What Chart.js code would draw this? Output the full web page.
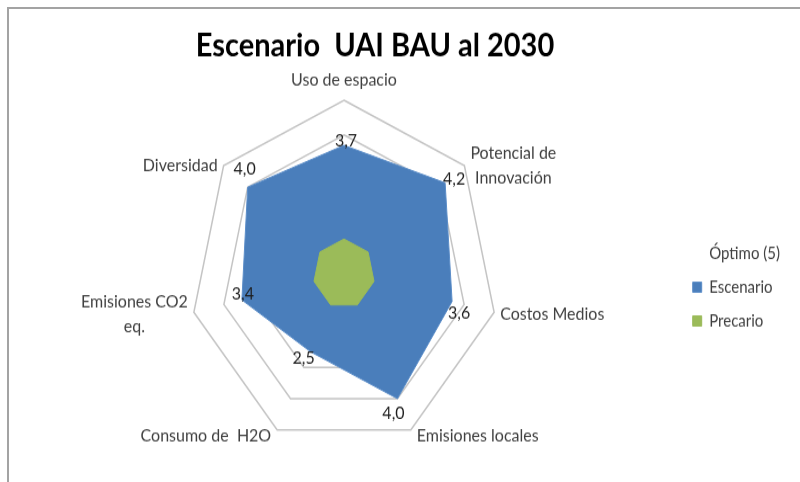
<!DOCTYPE html>
<html lang="es">
<head>
  <meta charset="UTF-8">
  <title>Escenario UAI BAU al 2030</title>
  <script src="https://cdn.jsdelivr.net/npm/chart.js"></script>
  <style>
    html, body {
      margin: 0;
      padding: 0;
      background: #fff;
      overflow: hidden;
    }
    .marco {
      position: absolute;
      left: 7px;
      top: 7px;
      width: 820px;
      height: 520px;
      border: 2px solid #a3a3a3;
    }
    #grafico {
      position: absolute;
      left: 0;
      top: 0;
    }
  </style>
</head>
<body>
  <div class="marco"></div>
  <!-- el original esta estirado en vertical: se dibuja a 800x428 y se muestra a 800x482 -->
  <canvas id="grafico" width="800" height="428" style="width:800px;height:482px"></canvas>

  <script>
    // Datos
    const ejes = ['Uso de espacio', ['Potencial de', 'Innovación'], 'Costos Medios', 'Emisiones locales',
                  'Consumo de  H2O', ['Emisiones CO2', 'eq.'], 'Diversidad'];
    const optimo = [5, 5, 5, 5, 5, 5, 5];
    const escenario = [3.7, 4.2, 3.6, 4.0, 2.5, 3.4, 4.0];
    const precario = [1, 1, 1, 1, 1, 1, 1];
    const titulo = 'Escenario  UAI BAU al 2030';

    // desplazamiento (px) de cada etiqueta de valor respecto a su punto
    const desplazamientos = [[2, -4], [9, -4], [7, 10], [-4, 13], [-7, 5], [1, -5], [-3, -16]];

    const fuente = 'Lato, "Open Sans", sans-serif';

    const tituloPlugin = {
      id: 'tituloExcel',
      afterDraw(chart) {
        const ctx = chart.ctx;
        ctx.save();
        ctx.font = 'bold 29px ' + fuente;
        ctx.fillStyle = '#000';
        ctx.textAlign = 'center';
        ctx.textBaseline = 'middle';
        ctx.fillText(titulo, 375, 41);
        ctx.restore();
      }
    };

    // nombres de los ejes, al costado de cada vertice como en Excel
    const ejesPlugin = {
      id: 'ejesTexto',
      afterDraw(chart) {
        const r = chart.scales.r;
        const ctx = chart.ctx;
        const alto = 22;
        ctx.save();
        ctx.font = '16px ' + fuente;
        ctx.fillStyle = '#404040';
        ctx.textAlign = 'center';
        ctx.textBaseline = 'middle';
        ejes.forEach((texto, i) => {
          const p = r.getPointPosition(i, r.drawingArea);
          const lineas = [].concat(texto);
          const ancho = Math.max(...lineas.map(l => ctx.measureText(l).width));
          const c = Math.cos(p.angle);
          const s = Math.sin(p.angle);
          let x, y;
          if (Math.abs(c) < 0.01) {
            x = p.x;
            y = p.y - 18;
          } else {
            x = p.x + Math.sign(c) * (6 + ancho / 2);
            y = p.y + Math.max(0, s) * 6;
          }
          lineas.forEach((l, k) => ctx.fillText(l, x, y + (k - (lineas.length - 1) / 2) * alto));
        });
        ctx.restore();
      }
    };

    const etiquetasPlugin = {
      id: 'etiquetas',
      afterDatasetsDraw(chart) {
        const ctx = chart.ctx;
        const meta = chart.getDatasetMeta(1);
        ctx.save();
        ctx.font = '16px ' + fuente;
        ctx.fillStyle = '#1e1e1e';
        ctx.textAlign = 'center';
        ctx.textBaseline = 'middle';
        meta.data.forEach((pt, i) => {
          const d = desplazamientos[i];
          ctx.fillText(escenario[i].toFixed(1).replace('.', ','), pt.x + d[0], pt.y + d[1]);
        });
        ctx.restore();
      }
    };

    new Chart(document.getElementById('grafico'), {
      type: 'radar',
      data: {
        labels: ejes,
        datasets: [
          {
            label: 'Óptimo (5)',
            data: optimo,
            backgroundColor: 'rgba(0,0,0,0)',
            borderColor: 'rgba(0,0,0,0)',
            borderWidth: 0,
            pointRadius: 0,
            fill: false,
            order: 2
          },
          {
            label: 'Escenario',
            data: escenario,
            backgroundColor: '#4a7ebb',
            borderColor: '#5b8dc8',
            borderWidth: 1,
            pointRadius: 0,
            fill: true,
            order: 1
          },
          {
            label: 'Precario',
            data: precario,
            backgroundColor: '#9bbb59',
            borderColor: '#9bbb59',
            borderWidth: 1,
            pointRadius: 0,
            fill: true,
            order: 0
          }
        ]
      },
      options: {
        responsive: false,
        animation: false,
        layout: {
          padding: { top: 89, bottom: 31, left: 11, right: 10 }
        },
        scales: {
          r: {
            min: 0,
            max: 5,
            ticks: { display: false, stepSize: 1 },
            angleLines: { display: false },
            grid: { color: '#c4c4c4', lineWidth: 1.5 },
            pointLabels: { display: false }
          }
        },
        plugins: {
          tooltip: { enabled: false },
          legend: {
            position: 'right',
            title: { display: true, text: ' ', padding: { top: 3, bottom: 3 }, font: { size: 15 } },
            labels: {
              boxWidth: 9,
              boxHeight: 9,
              padding: 15,
              color: '#404040',
              font: { family: fuente, size: 15 },
              sort: (a, b) => a.datasetIndex - b.datasetIndex
            }
          }
        }
      },
      plugins: [tituloPlugin, ejesPlugin, etiquetasPlugin]
    });
  </script>
</body>
</html>
